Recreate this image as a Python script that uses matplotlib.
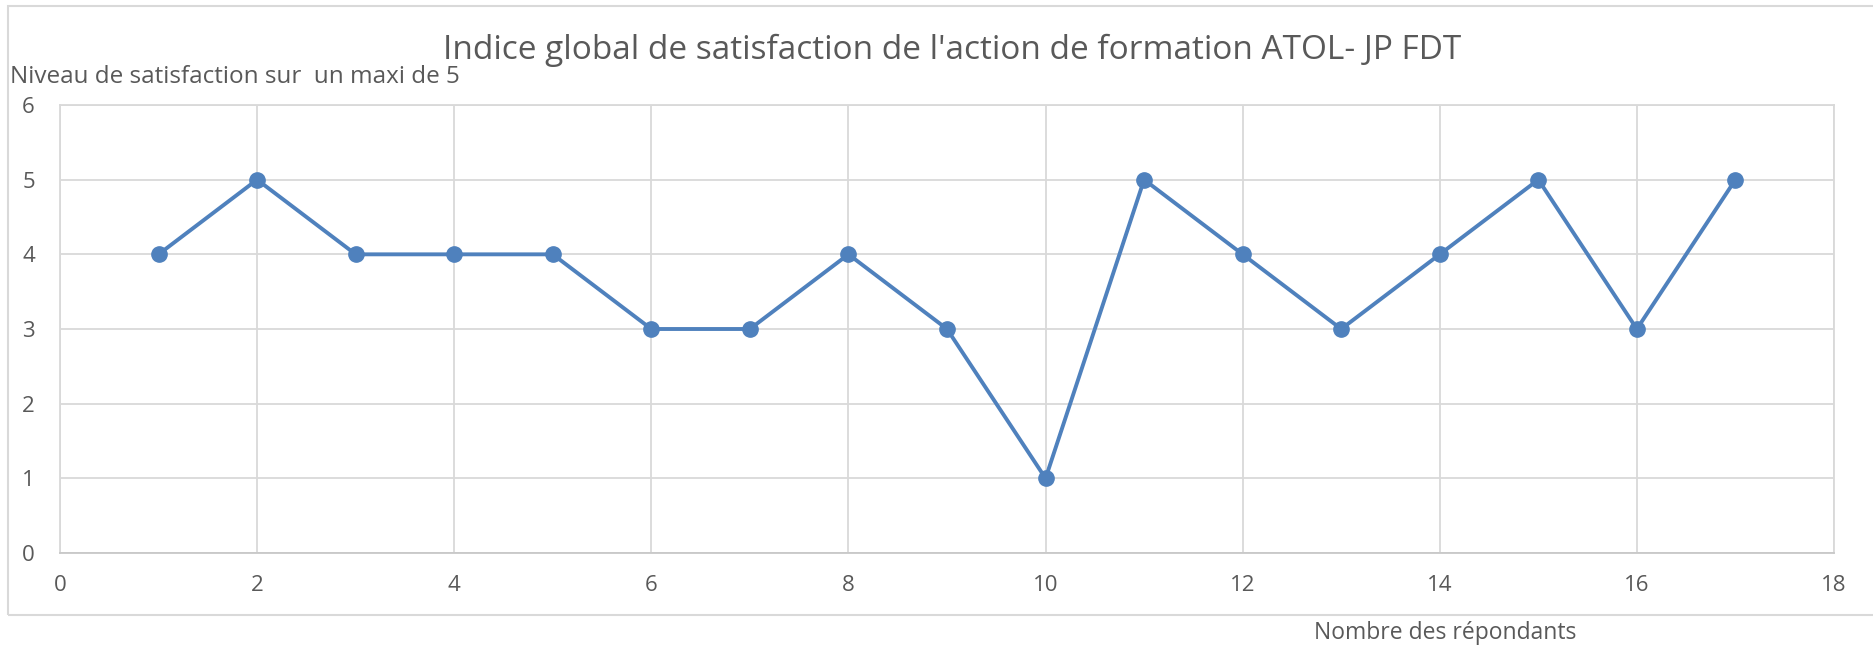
import matplotlib.pyplot as plt
from matplotlib.patches import Rectangle

# data
repondants = [1, 2, 3, 4, 5, 6, 7, 8, 9, 10, 11, 12, 13, 14, 15, 16, 17]
satisfaction = [4, 5, 4, 4, 4, 3, 3, 4, 3, 1, 5, 4, 3, 4, 5, 3, 5]
x_ticks = [0, 2, 4, 6, 8, 10, 12, 14, 16, 18]
y_ticks = [0, 1, 2, 3, 4, 5, 6]

W, H = 1874, 648
plt.rcParams['font.family'] = ['Open Sans', 'DejaVu Sans']
txt = '#595959'
grid = '#D9D9D9'
blue = '#4F81BD'

fig = plt.figure(figsize=(W / 100, H / 100), dpi=100)
# plot area in pixels: left 60, right 1834, top 105, bottom 553
ax = fig.add_axes([60 / W, 1 - 553 / H, (1834 - 60) / W, (553 - 105) / H])

ax.plot(repondants, satisfaction, color=blue, linewidth=2.8,
        marker='o', markersize=11, zorder=3)

ax.set_xlim(0, 18)
ax.set_ylim(0, 6)
ax.set_xticks(x_ticks)
ax.set_yticks(y_ticks)
ax.grid(True, color=grid, linewidth=1.3)
ax.set_axisbelow(True)
for s in ax.spines.values():
    s.set_color(grid)
    s.set_linewidth(1.3)
ax.spines['bottom'].set_color('#C8C8C8')
ax.tick_params(length=0, labelsize=16, colors=txt, pad=16)
ax.tick_params(axis='y', pad=18)

fig.text(952 / W, 1 - 50 / H, "Indice global de satisfaction de l'action de formation ATOL- JP FDT",
         ha='center', va='center', fontsize=24, color=txt)
fig.text(10 / W, 1 - 77 / H, "Niveau de satisfaction sur  un maxi de 5",
         ha='left', va='center', fontsize=17.5, color=txt)
fig.text(1445 / W, 1 - 633 / H, "Nombre des répondants",
         ha='center', va='center', fontsize=16.5, color=txt)

# outer chart frame (runs off the right edge)
fig.patches.append(Rectangle((8 / W, 1 - 615 / H), 1.2, (615 - 6) / H,
                             transform=fig.transFigure, fill=False,
                             edgecolor=grid, linewidth=1.5))

fig.savefig('out.png', dpi=100)
